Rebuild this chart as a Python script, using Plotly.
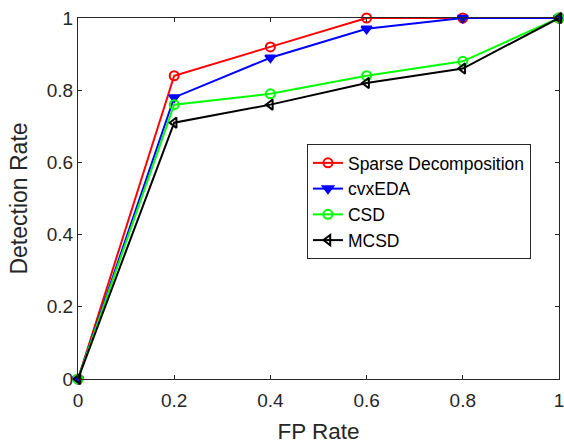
import plotly.graph_objects as go

fp_rate = [0, 0.2, 0.4, 0.6, 0.8, 1.0]
sparse_decomp = [0, 0.84, 0.92, 1.0, 1.0, 1.0]
cvx_eda = [0, 0.78, 0.89, 0.97, 1.0, 1.0]
csd = [0, 0.76, 0.79, 0.84, 0.88, 1.0]
mcsd = [0, 0.71, 0.76, 0.82, 0.86, 1.0]
tick_vals = [0, 0.2, 0.4, 0.6, 0.8, 1]
tick_text = ["0", "0.2", "0.4", "0.6", "0.8", "1"]

series = [
    ("Sparse Decomposition", sparse_decomp, "#ff0000", "circle-open"),
    ("cvxEDA", cvx_eda, "#0000ff", "triangle-down"),
    ("CSD", csd, "#00ff00", "circle-open"),
    ("MCSD", mcsd, "#000000", "triangle-left-open"),
]

FONT = "Liberation Sans, Arial"
INK = "#262626"

fig = go.Figure()
for name, vals, color, sym in series:
    fig.add_trace(go.Scatter(
        x=fp_rate, y=vals, name=name, mode="lines+markers",
        line=dict(color=color, width=2),
        marker=dict(symbol=sym, size=9, color=color, line=dict(color=color, width=2)),
        cliponaxis=False,
    ))

axis_common = dict(
    range=[0, 1], showgrid=False, zeroline=False,
    showline=True, linecolor=INK, linewidth=1, mirror="ticks",
    ticks="inside", ticklen=4, tickcolor=INK,
    tickvals=tick_vals, ticktext=tick_text,
    tickfont=dict(family=FONT, size=19, color=INK),
    ticklabeloverflow="allow", automargin=False,
)

fig.update_xaxes(**axis_common, ticklabelstandoff=4,
                 title=dict(text="FP Rate", standoff=16,
                            font=dict(family=FONT, size=22.5, color=INK)))
fig.update_yaxes(**axis_common,
                 title=dict(text="Detection Rate", standoff=12,
                            font=dict(family=FONT, size=23, color=INK)))

fig.update_layout(
    width=564, height=444,
    margin=dict(l=78, r=5, t=18, b=65),
    paper_bgcolor="white", plot_bgcolor="white",
    showlegend=True,
    legend=dict(
        x=0.476, y=0.651, xanchor="left", yanchor="top",
        bgcolor="white", bordercolor=INK, borderwidth=1,
        font=dict(family=FONT, size=17.5, color="#000000"),
        itemwidth=30, tracegroupgap=0, entrywidth=225,
    ),
)

fig.write_html("out.html")
